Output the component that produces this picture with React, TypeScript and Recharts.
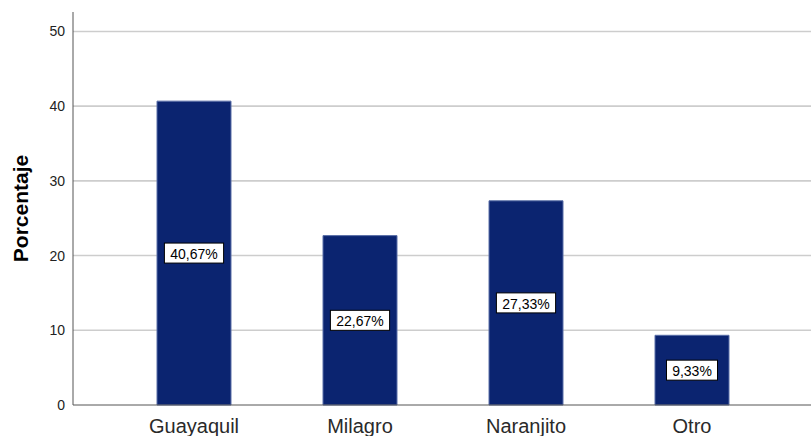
import React from "react";
import { BarChart, Bar, XAxis, YAxis, CartesianGrid, LabelList } from "recharts";

const categories = ["Guayaquil", "Milagro", "Naranjito", "Otro"];
const percentages = [40.67, 22.67, 27.33, 9.33];
const yTicks = [0, 10, 20, 30, 40, 50];

const data = categories.map((name, i) => ({ name, value: percentages[i] }));

const FONT = "'Liberation Sans', Arial, sans-serif";

const BoxLabel = (props: any) => {
  const { x, y, width, height, value } = props;
  const text = value.toFixed(2).replace(".", ",") + "%";
  const cx = x + width / 2;
  const cy = y + height / 2;
  const w = text.length * 8.2 + 10;
  const h = 20;
  return (
    <g>
      <rect x={cx - w / 2} y={cy - h / 2} width={w} height={h} fill="#fff" stroke="#000" strokeWidth={1} />
      <text x={cx} y={cy + 1} textAnchor="middle" dominantBaseline="central" fontSize={14} fontFamily={FONT} fill="#000">
        {text}
      </text>
    </g>
  );
};

const YLabel = (props: any) => {
  const { viewBox } = props;
  const cy = viewBox.y + viewBox.height / 2;
  return (
    <text
      x={20}
      y={cy}
      transform={`rotate(-90, 20, ${cy})`}
      textAnchor="middle"
      dominantBaseline="central"
      fontSize={21}
      fontWeight="bold"
      fontFamily={FONT}
      fill="#000"
    >
      Porcentaje
    </text>
  );
};

export default function App() {
  return (
    <div style={{ position: "absolute", left: 0, top: 0, width: 811, height: 436, background: "#fff", overflow: "hidden" }}>
      <BarChart
        width={813}
        height={436}
        data={data}
        margin={{ top: 12, right: 0, bottom: 0, left: 0 }}
        barSize={74}
      >
        <CartesianGrid vertical={false} horizontalValues={yTicks.slice(1)} stroke="#cdcdcd" strokeWidth={1.6} />
        <XAxis
          dataKey="name"
          height={31}
          padding={{ left: 38, right: 38 }}
          tickLine={false}
          axisLine={{ stroke: "#555", strokeWidth: 1 }}
          tick={{ fontSize: 20, fill: "#2a2a2a", fontFamily: FONT }}
          tickMargin={8}
        />
        <YAxis
          width={73}
          domain={[0, 52.6]}
          ticks={yTicks}
          tickLine={false}
          axisLine={{ stroke: "#555", strokeWidth: 1 }}
          tick={{ fontSize: 14, fill: "#222", fontFamily: FONT }}
          tickMargin={2}
          label={<YLabel />}
        />
        <Bar dataKey="value" fill="#0b2470" stroke="#5a6fa8" strokeWidth={1} isAnimationActive={false}>
          <LabelList dataKey="value" content={<BoxLabel />} />
        </Bar>
      </BarChart>
    </div>
  );
}
